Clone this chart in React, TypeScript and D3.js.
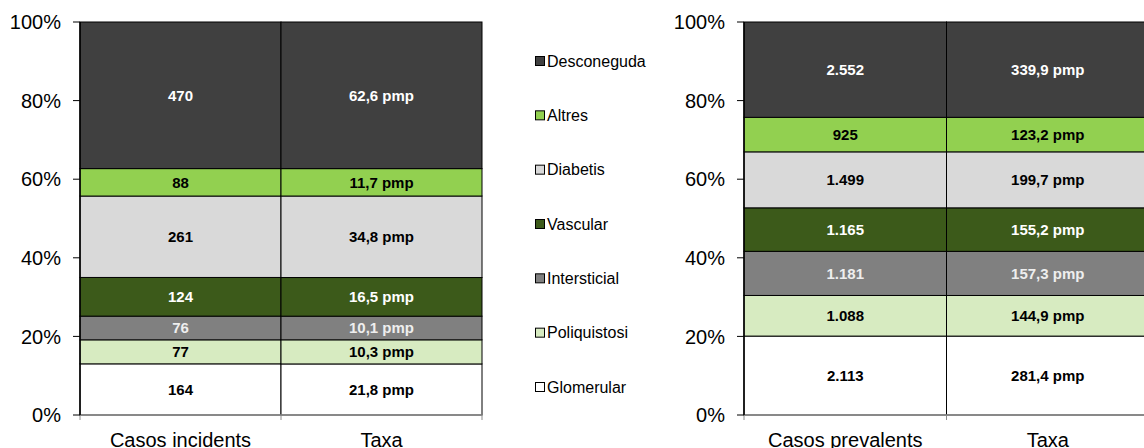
import React from "react";
import * as d3 from "d3";

const causes = ["Glomerular", "Poliquistosi", "Intersticial", "Vascular", "Diabetis", "Altres", "Desconeguda"];
const colors = ["#FFFFFF", "#D7EBC1", "#808080", "#3C5A1A", "#D9D9D9", "#92D050", "#404040"];
const textColors = ["#000", "#000", "#EEEEEE", "#FFFFFF", "#000", "#000", "#FFFFFF"];

const leftCategories = ["Casos incidents", "Taxa"];
const incidentCases = [164, 77, 76, 124, 261, 88, 470];
const incidentRate = [21.8, 10.3, 10.1, 16.5, 34.8, 11.7, 62.6];

const rightCategories = ["Casos prevalents", "Taxa"];
const prevalentCases = [2113, 1088, 1181, 1165, 1499, 925, 2552];
const prevalentRate = [281.4, 144.9, 157.3, 155.2, 199.7, 123.2, 339.9];

const yTicks = [0, 0.2, 0.4, 0.6, 0.8, 1];

const loc = d3.formatLocale({ decimal: ",", thousands: ".", grouping: [3], currency: ["", "€"] });
const fmtInt = loc.format(",d");
const fmtRate = (v: number) => loc.format(",.1f")(v) + " pmp";

const FONT = "Liberation Sans, Arial, sans-serif";

function Panel({ x0, x1, categories, series }: { x0: number; x1: number; categories: string[]; series: { values: number[]; fmt: (v: number) => string }[] }) {
  const top = 22, bottom = 415;
  const x = d3.scaleBand<string>().domain(categories).range([x0, x1]).padding(0);
  const y = d3.scaleLinear().domain([0, 1]).range([bottom, top]);
  const pct = d3.format(".0%");
  return (
    <g>
      {series.map((s, si) => {
        const cat = categories[si];
        const total = d3.sum(s.values);
        let cum = 0;
        return (
          <g key={si}>
            {s.values.map((v, i) => {
              const y0 = cum / total;
              cum += v;
              const y1 = cum / total;
              const yTop = y(y1), yBot = y(y0);
              return (
                <g key={i}>
                  <rect x={x(cat)} y={yTop} width={x.bandwidth()} height={yBot - yTop} fill={colors[i]} stroke="#000" strokeWidth={1} />
                  <text x={(x(cat) as number) + x.bandwidth() / 2} y={(yTop + yBot) / 2} dy="0.36em" textAnchor="middle" fontFamily={FONT} fontWeight="bold" fontSize={15} fill={textColors[i]}>
                    {s.fmt(v)}
                  </text>
                </g>
              );
            })}
          </g>
        );
      })}
      {/* bottom axis */}
      <line x1={x0} x2={x1} y1={bottom} y2={bottom} stroke="#8C8C8C" strokeWidth={1.5} />
      {[x0, ...categories.map((c) => (x(c) as number) + x.bandwidth())].map((t, i) => (
        <line key={i} x1={t} x2={t} y1={bottom} y2={bottom + 5} stroke="#8C8C8C" strokeWidth={1} />
      ))}
      {/* left axis */}
      <line x1={x0} x2={x0} y1={top} y2={bottom} stroke="#000" strokeWidth={1.5} />
      {yTicks.map((t) => (
        <g key={t}>
          <line x1={x0 - 7} x2={x0} y1={y(t)} y2={y(t)} stroke="#000" strokeWidth={1} />
          <text x={x0 - 19} y={y(t)} dy="0.36em" textAnchor="end" fontFamily={FONT} fontSize={20} fill="#000">
            {pct(t)}
          </text>
        </g>
      ))}
      {categories.map((c) => (
        <text key={c} x={(x(c) as number) + x.bandwidth() / 2} y={447} textAnchor="middle" fontFamily={FONT} fontSize={20} fill="#000">
          {c}
        </text>
      ))}
    </g>
  );
}

export default function App() {
  const legendY = d3.scalePoint<string>().domain([...causes].reverse()).range([61, 387]);
  return (
    <svg width={1144} height={448} style={{ position: "absolute", left: 0, top: 0, background: "#fff" }}>
      <rect width={1144} height={448} fill="#fff" />
      <Panel
        x0={80}
        x1={482}
        categories={leftCategories}
        series={[
          { values: incidentCases, fmt: fmtInt },
          { values: incidentRate, fmt: fmtRate },
        ]}
      />
      <Panel
        x0={744}
        x1={1149}
        categories={rightCategories}
        series={[
          { values: prevalentCases, fmt: fmtInt },
          { values: prevalentRate, fmt: fmtRate },
        ]}
      />
      {causes.map((c, i) => {
        const cy = legendY(c) as number;
        return (
          <g key={c}>
            <rect x={535.5} y={cy - 4.5} width={9} height={9} fill={colors[i]} stroke="#000" strokeWidth={1} />
            <text x={547} y={cy} dy="0.36em" fontFamily={FONT} fontSize={16} fill="#000">
              {c}
            </text>
          </g>
        );
      })}
    </svg>
  );
}
